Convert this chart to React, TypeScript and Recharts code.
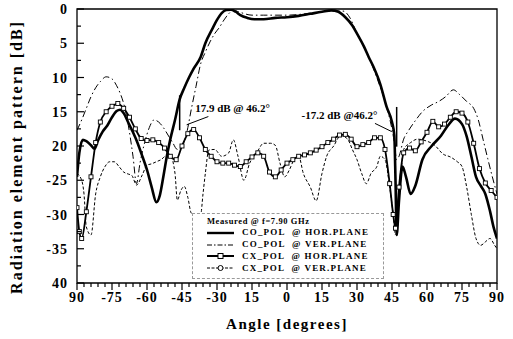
import React from 'react';
import { LineChart, Line, XAxis, YAxis, ReferenceArea, ReferenceLine, ReferenceDot, Legend } from 'recharts';

const serif = "'Liberation Serif', 'Times New Roman', serif";

// CO_POL @ HOR.PLANE (thick solid)
const coHorAngle = [
  -90, -89, -87.5, -86, -84, -82.5, -81, -79, -77, -75,
  -73, -71.5, -70, -68, -66, -64, -62, -60, -58, -56,
  -54.5, -53, -51.5, -50, -48, -46, -44, -42, -40, -37,
  -35, -32, -30, -28, -26, -24, -22, -20, -17, -14,
  -10, -5, 0, 5, 10, 15, 19, 22, 25, 28,
  30, 33, 35, 37, 40, 42.7, 45, 46, 46.5, 47,
  48, 49.5, 51, 53, 55, 58, 62, 66, 69, 72,
  75, 77, 79, 81, 83, 85, 87, 88.5, 90,
];
const coHorDb = [
  24.5, 21, 19.1, 19.3, 19.9, 20.4, 19.2, 17.9, 17, 15.8,
  14.9, 14.7, 15.2, 16.6, 18, 19.6, 21.5, 23.5, 26, 28.2,
  27.2, 24.5, 21.5, 19, 16.2, 13.2, 11.5, 10, 8.7, 7,
  5, 2.9, 1.6, 0.6, 0.15, 0.1, 0.4, 0.9, 1.3, 1.5,
  1.5, 1.3, 1.2, 1.0, 0.7, 0.4, 0.2, 0.4, 1.2, 2.4,
  3.6, 5.5, 7, 8.4, 11, 14.3, 16.5, 18.5, 25, 33,
  28, 23, 24.5, 27, 25.8, 22, 20, 18.5, 17, 16,
  16.8, 18.6, 21.5, 24.5, 25.8, 27, 29.5, 31.8, 33.5,
];

// CO_POL @ VER.PLANE (dash-dot)
const coVerAngle = [
  -90, -88, -86, -84, -82, -80, -77.5, -75, -73, -71.5,
  -70, -68, -66, -64.5, -63, -61, -59, -57, -55, -53,
  -51, -49, -47, -45, -43, -41, -39, -37, -35, -33,
  -31, -29, -27, -25, -23, -20, -15, -10, -5, 0,
  5, 10, 15, 20, 24, 27, 30, 33, 36, 39,
  42, 44, 46, 47, 48, 50, 52, 55, 58, 62,
  65, 68, 71.3, 74, 77, 80, 82, 84, 86, 88,
  90,
];
const coVerDb = [
  17.7, 16.2, 14.5, 12.8, 11.5, 10.6, 9.9, 10.2, 11.2, 12.3,
  13.8, 17, 21.5, 25.5, 22.5, 19.5, 17.3, 16.2, 16.5, 17.3,
  18.4, 19.5, 20.5, 20, 18.1, 14.6, 11.3, 8, 6.3, 4.8,
  3.6, 2.7, 1.6, 0.7, 0.2, 0.5, 0.9, 0.9, 0.9, 0.9,
  0.8, 0.6, 0.4, 0.3, 0.3, 1.3, 3.6, 5.5, 7.8, 10.5,
  13.5, 16, 19.5, 22, 21.5, 19, 17.8, 16.3, 15, 14,
  13.5, 12.8, 11.8, 12.5, 13.5, 14.5, 16.2, 19, 21.8, 24.5,
  27,
];

// CX_POL @ HOR.PLANE (thick, square markers)
const cxHorAngle = [
  -90, -89, -88, -86, -84, -82, -80, -77.5, -75, -72.5,
  -70, -67.5, -65, -62.5, -60, -57.5, -55, -52.5, -50, -47.5,
  -45, -42.5, -40, -37.5, -35, -32.5, -30, -27.5, -25, -22.5,
  -20, -17.5, -15, -12.5, -10, -7.5, -5, -2.5, 0, 2.5,
  5, 7.5, 10, 12.5, 15, 17.5, 20, 22.5, 25, 27.5,
  30, 32.5, 35, 37.5, 40, 42, 44, 45.5, 46.5, 48,
  50, 52.5, 55, 57.5, 60, 62.5, 65, 67.5, 70, 72.5,
  75, 77.5, 80, 82.5, 85, 87.5, 90,
];
const cxHorDb = [
  29, 32.5, 33.5, 29.6, 24.5, 19.5, 16.5, 15, 14.2, 13.8,
  14.5, 15.8, 17.5, 18.9, 19.2, 19.1, 19.5, 20.3, 21.5, 22,
  20, 18.2, 17.6, 18.8, 20.5, 21.5, 22.3, 22.5, 22.5, 22.8,
  23, 22.3, 21.6, 21, 21.5, 23.8, 24.5, 23.5, 22.5, 22,
  21.5, 21.3, 21, 20.6, 20.1, 19.5, 19, 18.4, 18.3, 19,
  20.1, 19.8, 19.5, 18.8, 18.8, 20.5, 25.5, 30, 32, 26,
  21, 20.3, 20.7, 19.4, 18, 16.4, 17.2, 16.8, 15.8, 15,
  15.2, 16.5, 19.6, 23.3, 25.4, 26.5, 27.5,
];

// CX_POL @ VER.PLANE (thin dashed)
const cxVerAngle = [
  -90, -88, -87, -86, -84, -82, -80, -78, -76, -74,
  -72, -70, -68, -66.5, -64.5, -62, -60, -58, -56, -54,
  -52, -50, -48, -47, -45.5, -44, -42.5, -41, -39, -37,
  -36, -35, -33.5, -31, -28, -25, -23, -21, -18.5, -16,
  -13, -10, -7, -5, -3, -1, 1, 3, 5, 7,
  10, 12.5, 15, 17, 20, 23, 26, 28, 30, 32,
  34, 36, 38.5, 40, 42, 44, 45.5, 46.5, 48, 50,
  53, 56, 60, 63, 67, 70, 73, 75, 77, 79,
  81, 83, 85, 87, 89, 90,
];
const cxVerDb = [
  24, 25, 27, 31.8, 33, 27, 24.5, 23, 22.3, 22.3,
  23, 23.8, 24.1, 24.3, 25.7, 24.2, 22.8, 22.6, 22.3, 22,
  21.5, 21.5, 24, 27.9, 26.5, 25.9, 27.5, 29.8, 30, 30,
  27, 24, 20.6, 20.5, 21.5, 21, 19.1, 21.5, 25, 22.5,
  21, 19.6, 19.6, 19.9, 22.5, 24.5, 23.5, 22, 21.5, 24,
  26, 28, 24, 21.5, 20, 18.5, 19, 20.5, 22, 24,
  25.5, 24, 23, 21.5, 22, 26, 30, 33, 28, 20.5,
  19.5, 19, 19.3, 19.8, 21.2, 21.6, 22.3, 23, 26, 30,
  33.5, 34.5, 34, 33.5, 34.5, 35,
];

const xMajorTicks = [-90, -75, -60, -45, -30, -15, 0, 15, 30, 45, 60, 75, 90];
const xTickLabels = ['90', '-75', '-60', '-45', '-30', '15', '0', '15', '30', '45', '60', '75', '90'];
const yMajorTicks = [0, 5, 10, 15, 20, 25, 30, 35, 40];
const yTickLabels = ['0', '5', '10', '15', '20', '-25', '-30', '-35', '40'];

const legendNames = ['CO_POL  @ HOR.PLANE', 'CO_POL  @ VER.PLANE', 'CX_POL  @ HOR.PLANE', 'CX_POL  @ VER.PLANE'];

// minor ticks every 3 deg / 2.5 dB
const xTicks = Array.from({ length: 61 }, (_, i) => -90 + 3 * i);
const yTicks = Array.from({ length: 17 }, (_, i) => i * 2.5);

const toPoints = (a: number[], v: number[]) => a.map((x, i) => ({ x, y: v[i] }));
const coHor = toPoints(coHorAngle, coHorDb);
const coVer = toPoints(coVerAngle, coVerDb);
const cxHor = toPoints(cxHorAngle, cxHorDb);
const cxVer = toPoints(cxVerAngle, cxVerDb);

const XTick = (props: any) => {
  const { x, y, payload } = props;
  const i = xMajorTicks.indexOf(payload.value);
  const major = i >= 0;
  return (
    <g>
      <line x1={x} x2={x} y1={y} y2={y + (major ? 7 : 4)} stroke="#000" strokeWidth={1.2} />
      {major && (
        <text x={x} y={y + 19} textAnchor="middle" fontFamily={serif} fontWeight="bold" fontSize={14} letterSpacing={1} fill="#000">
          {xTickLabels[i]}
        </text>
      )}
    </g>
  );
};

const YTickLeft = (props: any) => {
  const { x, y, payload } = props;
  const i = yMajorTicks.indexOf(payload.value);
  const major = i >= 0;
  return (
    <g>
      <line x1={x} x2={x + (major ? 7 : 4)} y1={y} y2={y} stroke="#000" strokeWidth={1.2} />
      {major && (
        <text x={x - 9} y={y + 5} textAnchor="end" fontFamily={serif} fontWeight="bold" fontSize={14} letterSpacing={1} fill="#000">
          {yTickLabels[i]}
        </text>
      )}
    </g>
  );
};

const YTickRight = (props: any) => {
  const { x, y, payload } = props;
  const major = yMajorTicks.indexOf(payload.value) >= 0;
  return <line x1={x} x2={x - (major ? 6 : 3)} y1={y} y2={y} stroke="#000" strokeWidth={1.2} />;
};

const SquareDot = (props: any) => {
  const { cx, cy, index } = props;
  return <rect key={`sq-${index}`} x={cx - 2} y={cy - 2} width={4} height={4} fill="#fff" stroke="#000" strokeWidth={0.9} />;
};

const Sample = ({ i }: { i: number }) => (
  <svg width={27} height={10} style={{ display: 'block' }}>
    {i === 0 && <line x1={0} x2={27} y1={5} y2={5} stroke="#000" strokeWidth={2.4} />}
    {i === 1 && <line x1={0} x2={27} y1={5} y2={5} stroke="#000" strokeWidth={1} strokeDasharray="5 2 1.5 2" />}
    {i === 2 && (
      <>
        <line x1={0} x2={27} y1={5} y2={5} stroke="#000" strokeWidth={2} />
        <rect x={11} y={2.5} width={5} height={5} fill="#fff" stroke="#000" strokeWidth={1} />
      </>
    )}
    {i === 3 && (
      <>
        <line x1={0} x2={27} y1={5} y2={5} stroke="#000" strokeWidth={1} strokeDasharray="3 1.5" />
        <circle cx={13.5} cy={5} r={2.5} fill="#fff" stroke="#000" strokeWidth={1} />
      </>
    )}
  </svg>
);

const LegendBox = () => (
  <div
    style={{
      width: 192,
      height: 66,
      boxSizing: 'border-box',
      border: '1px dashed #999',
      background: '#fff',
      fontFamily: serif,
      color: '#000',
      padding: '1px 0 0 14px',
      textAlign: 'left',
    }}
  >
    <div style={{ fontSize: 8.5, fontWeight: 'bold', letterSpacing: 0.6, height: 12, lineHeight: '12px' }}>
      Measured @ f=7.90 GHz
    </div>
    {legendNames.map((name, i) => (
      <div key={name} style={{ display: 'flex', alignItems: 'center', height: 11.8 }}>
        <Sample i={i} />
        <span style={{ marginLeft: 8, fontSize: 9, fontWeight: 'bold', letterSpacing: 1.2, whiteSpace: 'pre', lineHeight: '11px' }}>
          {name}
        </span>
      </div>
    ))}
  </div>
);

const annoStyle = { fill: '#000', fontSize: 11, fontWeight: 'bold', fontFamily: serif };

export default function App() {
  return (
    <div style={{ position: 'absolute', left: 0, top: 0, background: '#fff' }}>
      <LineChart width={513} height={339} margin={{ top: 9, right: 0, bottom: 0, left: 0 }}>
        <XAxis
          dataKey="x"
          type="number"
          domain={[-90, 90]}
          ticks={xTicks}
          interval={0}
          height={56}
          axisLine={false}
          tickLine={false}
          tickSize={0}
          tickMargin={0}
          tick={XTick}
          allowDataOverflow
        />
        <YAxis
          type="number"
          domain={[0, 40]}
          reversed
          ticks={yTicks}
          interval={0}
          width={77}
          axisLine={false}
          tickLine={false}
          tickSize={0}
          tickMargin={0}
          tick={YTickLeft}
          allowDataOverflow
        />
        <YAxis
          yAxisId="r"
          orientation="right"
          type="number"
          domain={[0, 40]}
          reversed
          ticks={yTicks}
          interval={0}
          width={16}
          axisLine={false}
          tickLine={false}
          tickSize={0}
          tickMargin={0}
          tick={YTickRight}
        />
        <Legend
          layout="vertical"
          align="center"
          verticalAlign="middle"
          content={() => <LegendBox />}
          wrapperStyle={{ left: 192, top: 213, width: 192, height: 66, margin: 0 }}
        />
        <Line data={cxVer} dataKey="y" type="monotone" stroke="#000" strokeWidth={1} strokeDasharray="3 2" dot={false} isAnimationActive={false} />
        <Line data={coVer} dataKey="y" type="monotone" stroke="#000" strokeWidth={1} strokeDasharray="7 3 1.5 3" dot={false} isAnimationActive={false} />
        <Line data={cxHor} dataKey="y" type="monotone" stroke="#000" strokeWidth={1.8} dot={SquareDot} isAnimationActive={false} />
        <Line data={coHor} dataKey="y" type="monotone" stroke="#000" strokeWidth={2.6} dot={false} isAnimationActive={false} />

        <ReferenceLine segment={[{ x: -46, y: 12.6 }, { x: -46, y: 17.7 }]} stroke="#000" strokeWidth={1.5} />
        <ReferenceLine segment={[{ x: 47, y: 14.3 }, { x: 47, y: 20.1 }]} stroke="#000" strokeWidth={1.5} />
        <ReferenceLine segment={[{ x: -43, y: 16.9 }, { x: -33.7, y: 15.7 }]} stroke="#000" strokeWidth={1} />
        <ReferenceLine segment={[{ x: 37.7, y: 16.7 }, { x: 44.9, y: 17.9 }]} stroke="#000" strokeWidth={1} />
        <ReferenceDot x={-41.5} y={14.4} r={0} fill="none" stroke="none" label={{ value: '17.9 dB @ 46.2°', position: 'right', offset: 5, ...annoStyle }} />
        <ReferenceDot x={4.1} y={15.5} r={0} fill="none" stroke="none" label={{ value: '-17.2 dB @46.2°', position: 'right', offset: 5, ...annoStyle }} />

        <ReferenceArea x1={-90} x2={90} y1={0} y2={40} fill="none" stroke="#000" strokeWidth={1.3} fillOpacity={0} />

        <text x={22} y={157} transform="rotate(-90 22 157)" textAnchor="middle" fontFamily={serif} fontWeight="bold" fontSize={16} letterSpacing={2} fill="#000">
          Radiation element pattern [dB]
        </text>
        <text x={287} y={329} textAnchor="middle" fontFamily={serif} fontWeight="bold" fontSize={15} letterSpacing={1.5} fill="#000">
          Angle [degrees]
        </text>
      </LineChart>
    </div>
  );
}
